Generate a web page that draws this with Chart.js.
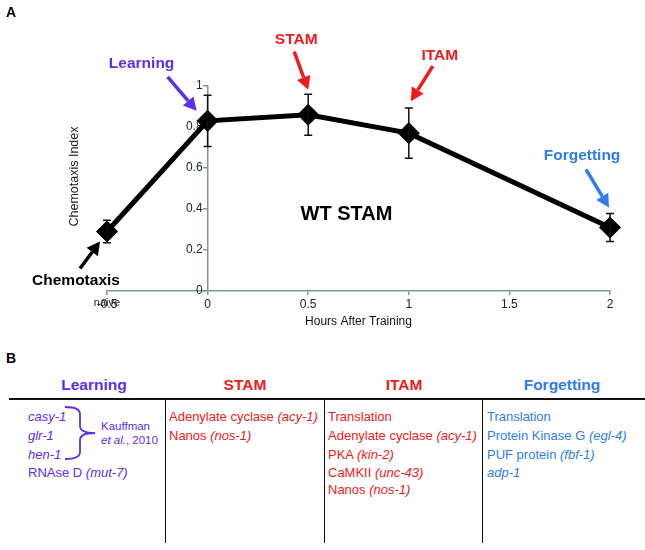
<!DOCTYPE html>
<html>
<head>
<meta charset="utf-8">
<script src="https://cdn.jsdelivr.net/npm/chart.js@4/dist/chart.umd.min.js"></script>
<style>
  html, body { margin: 0; padding: 0; background: #fff; }
  #wrap { position: relative; width: 645px; height: 550px; overflow: hidden; font-family: "Liberation Sans", Arial, sans-serif; }
  #c { position: absolute; left: 0; top: 0; }
  .abs { position: absolute; white-space: nowrap; }
  .hdr { font-weight: bold; font-size: 15.5px; line-height: 20px; text-align: center; width: 160px; }
  .row { font-size: 13px; line-height: 18px; }
  .ref { font-size: 11.5px; line-height: 14px; }
  .hl { position: absolute; background: #111; }
</style>
</head>
<body>
<div id="wrap">
  <canvas id="c" width="645" height="340"></canvas>
</div>
<script>
// ---- Panel A data ----
const hours = [-0.5, 0, 0.5, 1, 2];
const chemotaxisIndex = [0.29, 0.83, 0.86, 0.77, 0.31];
const errorSEM = [0.055, 0.125, 0.10, 0.123, 0.068];
const xTickStep = 0.5;
const yTickStep = 0.2;
const naiveLabel = 'naive';

// annotation labels attached to data points
const annotationTexts = ['Chemotaxis', 'Learning', 'STAM', 'ITAM', 'Forgetting'];
const annotationPointIndex = [0, 1, 2, 3, 4];

// ---- Panel B data ----
const phases = ['Learning', 'STAM', 'ITAM', 'Forgetting'];
const learningItems = [{g:'casy-1'}, {g:'glr-1'}, {g:'hen-1'}, {t:'RNAse D', g:'mut-7'}];
const stamItems = [{t:'Adenylate cyclase', g:'acy-1'}, {t:'Nanos', g:'nos-1'}];
const itamItems = [{t:'Translation'}, {t:'Adenylate cyclase', g:'acy-1'}, {t:'PKA', g:'kin-2'}, {t:'CaMKII', g:'unc-43'}, {t:'Nanos', g:'nos-1'}];
const forgettingItems = [{t:'Translation'}, {t:'Protein Kinase G', g:'egl-4'}, {t:'PUF protein', g:'fbf-1'}, {g:'adp-1'}];
const citation = ['Kauffman', '<i>et al.</i>, 2010'];

// ---- styles ----
const PURPLE = '#5a2ff0', RED = '#ee1b1b', BLUE = '#2f7cf0';
const phaseColors = [PURPLE, RED, RED, BLUE];
const AXIS = '#7f979c';
const FONT = '"Liberation Sans", Arial, sans-serif';
Chart.defaults.font.family = FONT;

// annotation geometry (offsets from point pixel): label, arrow tail, arrow tip
const annotationGeom = [
  {color:'#000', label:[-31, 49], tail:[-27, 37], tip:[-7, 10]},
  {color:PURPLE, label:[-66, -57], tail:[-40, -44], tip:[-11, -10]},
  {color:RED, label:[-12, -75], tail:[-14, -63], tip:[0, -25]},
  {color:RED, label:[31, -77], tail:[24, -67], tip:[2, -32]},
  {color:BLUE, label:[-28, -72], tail:[-24, -58], tip:[-1, -20]}
];

function drawArrow(ctx, x1, y1, x2, y2, color) {
  const ang = Math.atan2(y2 - y1, x2 - x1);
  const headLen = 13, headHalf = 7;
  const bx = x2 - headLen * Math.cos(ang), by = y2 - headLen * Math.sin(ang);
  ctx.save();
  ctx.strokeStyle = color; ctx.fillStyle = color; ctx.lineWidth = 3.5; ctx.lineCap = 'butt';
  ctx.beginPath(); ctx.moveTo(x1, y1); ctx.lineTo(bx, by); ctx.stroke();
  ctx.beginPath();
  ctx.moveTo(x2, y2);
  ctx.lineTo(bx + headHalf * Math.sin(ang), by - headHalf * Math.cos(ang));
  ctx.lineTo(bx - headHalf * Math.sin(ang), by + headHalf * Math.cos(ang));
  ctx.closePath(); ctx.fill();
  ctx.restore();
}

const extras = {
  id: 'extras',
  afterDatasetsDraw(chart) {
    const ctx = chart.ctx;
    const xs = chart.scales.x, ys = chart.scales.y;
    const area = chart.chartArea;
    // error bars
    ctx.save();
    ctx.strokeStyle = '#111'; ctx.lineWidth = 1.5;
    hours.forEach((h, i) => {
      const px = xs.getPixelForValue(h);
      const top = ys.getPixelForValue(chemotaxisIndex[i] + errorSEM[i]);
      const bot = ys.getPixelForValue(chemotaxisIndex[i] - errorSEM[i]);
      ctx.beginPath();
      ctx.moveTo(px, top); ctx.lineTo(px, bot);
      ctx.moveTo(px - 4, top); ctx.lineTo(px + 4, top);
      ctx.moveTo(px - 4, bot); ctx.lineTo(px + 4, bot);
      ctx.stroke();
    });
    ctx.restore();
    // annotations
    ctx.save();
    annotationTexts.forEach((txt, k) => {
      const i = annotationPointIndex[k];
      const g = annotationGeom[k];
      const px = xs.getPixelForValue(hours[i]);
      const py = ys.getPixelForValue(chemotaxisIndex[i]);
      drawArrow(ctx, px + g.tail[0], py + g.tail[1], px + g.tip[0], py + g.tip[1], g.color);
      ctx.fillStyle = g.color;
      ctx.font = 'bold 15.5px ' + FONT;
      ctx.textAlign = 'center'; ctx.textBaseline = 'middle';
      ctx.fillText(txt, px + g.label[0], py + g.label[1]);
    });
    // WT STAM
    ctx.fillStyle = '#000';
    ctx.font = 'bold 20px ' + FONT;
    ctx.fillText('WT STAM', xs.getPixelForValue(0.69), ys.getPixelForValue(0.375));
    // naive tick label
    ctx.font = '11px ' + FONT;
    ctx.fillStyle = '#222';
    ctx.fillText(naiveLabel, xs.getPixelForValue(hours[0]), area.bottom + 12);
    // y axis title
    ctx.font = '12.5px ' + FONT;
    ctx.translate(75, (area.top + area.bottom) / 2 - 12);
    ctx.rotate(-Math.PI / 2);
    ctx.fillText('Chemotaxis Index', 0, 0);
    ctx.restore();
    // panel labels
    ctx.save();
    ctx.fillStyle = '#000';
    ctx.font = 'bold 14px ' + FONT;
    ctx.textAlign = 'left'; ctx.textBaseline = 'top';
    ctx.fillText('A', 6, 6);
    ctx.restore();
  }
};

// shift labels of the centre-positioned y axis away from the axis line
function offsetYLabels(scale) {
  if (scale._labelShiftPatched) return;
  const orig = scale._computeLabelItems.bind(scale);
  scale._computeLabelItems = function (ca) {
    const items = orig(ca);
    items.forEach(it => {
      if (it && it.options && Array.isArray(it.options.translation)) it.options.translation[0] -= 5;
    });
    return items;
  };
  scale._labelShiftPatched = true;
}

new Chart(document.getElementById('c'), {
  type: 'line',
  data: {
    datasets: [{
      data: hours.map((h, i) => ({x: h, y: chemotaxisIndex[i]})),
      borderColor: '#000',
      borderWidth: 5,
      backgroundColor: '#000',
      pointStyle: 'rectRot',
      pointRadius: 7.5,
      pointBackgroundColor: '#000',
      pointBorderColor: '#000',
      tension: 0,
      clip: false
    }]
  },
  options: {
    responsive: false,
    animation: false,
    devicePixelRatio: 1,
    layout: { padding: { left: 107, right: 35, top: 86, bottom: 0 } },
    plugins: { legend: { display: false }, tooltip: { enabled: false } },
    scales: {
      x: {
        type: 'linear', position: 'bottom',
        min: hours[0], max: hours[hours.length - 1],
        ticks: { stepSize: xTickStep, color: '#222', font: { size: 12 }, padding: 2, maxRotation: 0,
                 callback: v => String(Number(v.toFixed(1))) },
        grid: { display: true, drawOnChartArea: false, drawTicks: true, tickLength: 4, color: AXIS, lineWidth: 1.5 },
        border: { display: true, color: AXIS, width: 1.5 },
        title: { display: true, text: 'Hours After Training', color: '#111', font: { size: 12 }, padding: { top: 0, bottom: 11 } },
        afterFit: s => { s.height = 49; }
      },
      y: {
        type: 'linear', position: { x: 0 },
        min: 0, max: 1,
        ticks: { stepSize: yTickStep, color: '#222', font: { size: 12 }, padding: 2,
                 callback: v => String(Number(v.toFixed(1))) },
        grid: { display: true, drawOnChartArea: false, drawTicks: true, tickLength: 4, color: AXIS, lineWidth: 1.5 },
        border: { display: true, color: AXIS, width: 1.5 },
        afterFit: s => { s.width = 0; offsetYLabels(s); }
      }
    }
  },
  plugins: [extras]
});

// ---- Panel B (table) ----
const wrap = document.getElementById('wrap');
function add(html, cls, left, top, style) {
  const d = document.createElement('div');
  d.className = 'abs ' + cls;
  d.style.left = left + 'px'; d.style.top = top + 'px';
  if (style) Object.assign(d.style, style);
  d.innerHTML = html;
  wrap.appendChild(d);
  return d;
}
function itemHtml(it) {
  if (it.t && it.g) return it.t + ' <i>(' + it.g + ')</i>';
  if (it.g) return '<i>' + it.g + '</i>';
  return it.t;
}
add('B', '', 6, 350, { fontWeight: 'bold', fontSize: '14px', lineHeight: '16px' });
const headerCenters = [94, 245, 404, 562];
phases.forEach((p, i) => add(p, 'hdr', headerCenters[i] - 80, 375, { color: phaseColors[i] }));
const hl = document.createElement('div'); hl.className = 'hl';
Object.assign(hl.style, { left: '9px', top: '398px', width: '636px', height: '2px' });
wrap.appendChild(hl);
[164.5, 323.5, 481.5].forEach(x => {
  const v = document.createElement('div'); v.className = 'hl';
  Object.assign(v.style, { left: x + 'px', top: '399px', width: '1.6px', height: '144px' });
  wrap.appendChild(v);
});
const rowCenters = [417, 436, 455, 473, 490];
const colX = [28, 169, 328, 487];
[learningItems, stamItems, itamItems, forgettingItems].forEach((items, c) => {
  items.forEach((it, r) => add(itemHtml(it), 'row', colX[c], rowCenters[r] - 9, { color: phaseColors[c] }));
});
citation.forEach((t, r) => add(t, 'ref', 101, [426, 440][r] - 7, { color: PURPLE }));
// brace
const svgNS = 'http://www.w3.org/2000/svg';
const svg = document.createElementNS(svgNS, 'svg');
svg.setAttribute('width', '645'); svg.setAttribute('height', '550');
svg.style.position = 'absolute'; svg.style.left = '0'; svg.style.top = '0'; svg.style.pointerEvents = 'none';
const path = document.createElementNS(svgNS, 'path');
path.setAttribute('d', 'M65,407 Q80,407 80,414 L80,426 Q80,433 95,433 Q80,433 80,440 L80,452 Q80,459 65,459');
path.setAttribute('fill', 'none'); path.setAttribute('stroke', PURPLE); path.setAttribute('stroke-width', '1.8');
svg.appendChild(path);
wrap.appendChild(svg);
</script>
</body>
</html>
